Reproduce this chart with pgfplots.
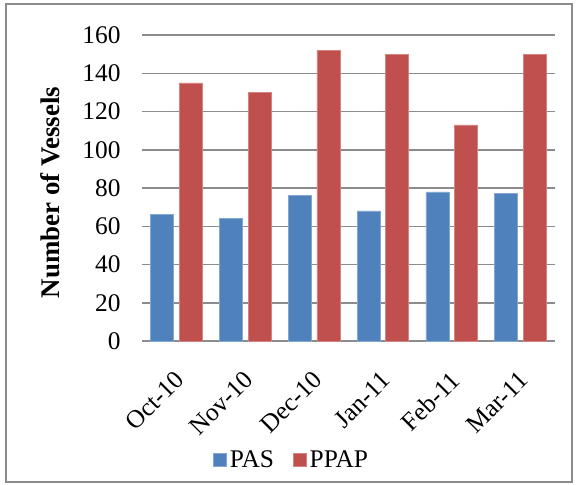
\documentclass[border=0pt]{standalone}
\usepackage{fontspec}
\setmainfont{Liberation Serif}
\usepackage{pgfplots}
\pgfplotsset{compat=1.18}
\definecolor{pasblue}{HTML}{4F81BD}
\definecolor{ppapred}{HTML}{C0504D}
\definecolor{gridgray}{HTML}{8C8C8C}
\begin{document}
\begin{tikzpicture}
\begin{axis}[
    name=ax,
    scale only axis,
    width=413bp, height=306bp,
    ybar, bar width=23bp,
    xmin=-0.5, xmax=5.5,
    ymin=0, ymax=160,
    ytick={0,20,...,160},
    xtick={0,...,5},
    xticklabels={Oct-10,Nov-10,Dec-10,Jan-11,Feb-11,Mar-11},
    /pgf/number format/assume math mode=true,
    ymajorgrids,
    grid style={gridgray, line width=1.5bp},
    axis lines*=left,
    x axis line style={gridgray, line width=1.5bp, -},
    y axis line style={draw=none},
    major tick length=0pt,
    tick label style={font=\fontsize{25.5}{30}\selectfont, text=black},
    yticklabel style={xshift=-18bp},
    xticklabel style={rotate=45, anchor=north east, xshift=-19bp, yshift=-15bp},
    ylabel={\textbf{Number of Vessels}},
    ylabel style={font=\fontsize{27}{31}\selectfont, at={(axis description cs:-0.223,0.485)}, anchor=center},
    legend style={draw=none, font=\fontsize{25.5}{29}\selectfont, at={(axis description cs:0.172,-0.387)}, anchor=west, legend columns=2, /tikz/every even column/.append style={column sep=16bp}, inner sep=0pt, /tikz/every node/.append style={inner xsep=3bp}},
    legend image code/.code={\fill[#1] (0bp,-6.5bp) rectangle (13bp,6.5bp);},
]
\addplot[fill=pasblue, draw=pasblue!70!white, line width=0.6bp, bar shift=-14.3bp] coordinates {(0,66) (1,64) (2,76) (3,68) (4,78) (5,77)};
\addplot[fill=ppapred, draw=ppapred!70!white, line width=0.6bp, bar shift=14.3bp] coordinates {(0,135) (1,130) (2,152) (3,150) (4,113) (5,150)};
\legend{PAS, PPAP}
\end{axis}
\path (ax.south west) ++(-142bp,-143bp) coordinate (bl);
\path (ax.north east) ++(22bp,35bp) coordinate (tr);
\path[use as bounding box] (bl) rectangle (tr);
\draw[gridgray, line width=1.5bp] ([shift={(6bp,2bp)}]bl) rectangle ([shift={(-5bp,-4bp)}]tr);
\end{tikzpicture}
\end{document}
